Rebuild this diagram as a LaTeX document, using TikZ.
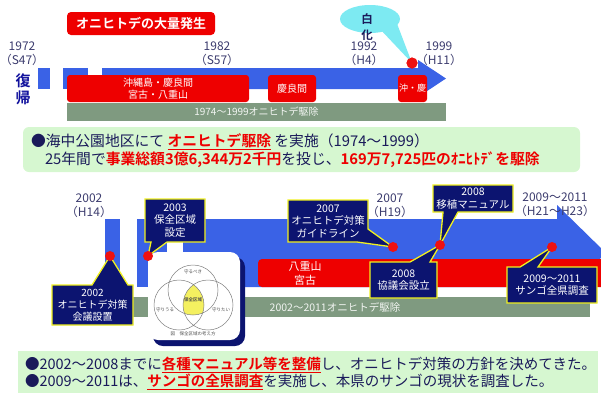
\documentclass[tikz,border=0pt]{standalone}
\usepackage{fontspec}
\setmainfont{Noto Sans CJK JP}[BoldFont={Noto Sans CJK JP Bold}]
\usetikzlibrary{calc}
\pgfdeclarelayer{back}
\pgfdeclarelayer{mid}
\pgfsetlayers{back,mid,main}
\definecolor{barblue}{HTML}{3A62E6}
\definecolor{redc}{HTML}{EE0000}
\definecolor{dotred}{HTML}{EE1111}
\definecolor{ggreen}{HTML}{7F9A80}
\definecolor{navyc}{HTML}{0C1470}
\definecolor{yellowc}{HTML}{F0F020}
\definecolor{lgreen}{HTML}{D6F7D0}
\definecolor{yearc}{HTML}{3C3C6E}
\definecolor{txtnavy}{HTML}{1A1A5A}
\definecolor{cyanc}{HTML}{7DEAF2}
\definecolor{vyellow}{HTML}{F4F060}
\newcommand{\fsz}[2]{\fontsize{#1}{#2}\selectfont}
\tikzset{
  yr/.style={text=yearc, font=\fsz{12}{14.5}, align=center},
  redbox/.style={fill=redc, rounded corners=3pt, text=white, align=center, font=\fsz{10}{12.5}, minimum height=27},
  callout/.style={fill=navyc, draw=yellowc, line width=1.3pt, line join=miter},
  ctext/.style={text=white, align=center, font=\fsz{10.5}{12.5}},
  dot/.style={circle, fill=dotred, minimum size=10pt},
  bartext/.style={text=white!90!ggreen, font=\fsz{10}{12}},
  venntext/.style={font=\fsz{4.5}{5}, text=black!70},
}
\begin{document}
\begin{tikzpicture}[x=1pt,y=-1pt, every node/.style={inner sep=0pt, outer sep=0pt}]
\useasboundingbox (0,0) rectangle (601,392);
\clip (0,0) rectangle (601,392);

% ================= TOP =================
\node[fill=redc, rounded corners=4pt, minimum width=148, minimum height=23, text=white, font=\fsz{13}{14}\bfseries] (title) at (141,23.5) {オニヒトデの大量発生};

\begin{pgfonlayer}{back}
\fill[barblue] (38,68) rectangle (50,89);
\fill[barblue] (63,68) rectangle (88,89);
\fill[barblue] (102,68) -- (418,68) -- (418,60) -- (446,78.5) -- (418,97) -- (418,89) -- (102,89) -- cycle;
\end{pgfonlayer}

\node[fill=ggreen, minimum width=379, minimum height=18, bartext] (gb1) at (256.5,112) {1974～1999オニヒトデ駆除};
\node[redbox, minimum width=182] (rb1) at (158,88.5) {沖縄島・慶良間\\宮古・八重山};
\node[redbox, minimum width=48] (rb2) at (292,88.5) {慶良間};
\node[redbox, minimum width=29, font=\fsz{9}{11}] (rb3) at (412.5,88.5) {沖・慶};

\node[yr] (y1972) at (22,53.5) {1972\\（S47）};
\node[yr] (y1982) at (217,53.5) {1982\\（S57）};
\node[yr] (y1992) at (364,53.5) {1992\\（H4）};
\node[yr] (y1999) at (439,53.5) {1999\\（H11）};
\node[font=\fsz{15}{17}\bfseries, text=txtnavy!60!blue, align=center] (fukki) at (23,89.5) {復\\帰};

\node[dot, minimum size=11pt] (d1999) at (412,63) {};
\fill[cyanc] (379,28) -- (396,21) -- (d1999.center) -- cycle;
\fill[cyanc] (370,19) ellipse (30pt and 14pt);
\node[dot, minimum size=11pt] at (d1999) {};
\node[font=\fsz{11.5}{15.5}\bfseries, text=txtnavy, align=center] (hakka) at (367,27) {白\\化};

% ================= MIDDLE TEXT =================
\node[fill=lgreen, rounded corners=6pt, minimum width=557, minimum height=45, anchor=north west] (midbox) at (23,127) {};
\node[anchor=west, font=\fsz{14.8}{16}, text=txtnavy] (l1) at (31,142) {●海中公園地区にて \textcolor{redc}{\bfseries\underline{オニヒトデ駆除}} を実施（1974～1999）};
\node[anchor=west, font=\fsz{14.8}{16}, text=txtnavy] (l2) at (45,160) {25年間で\textcolor{redc}{\bfseries 事業総額3億6,344万2千円}を投じ、\textcolor{redc}{\bfseries 169万7,725匹のｵﾆﾋﾄﾃﾞを駆除}};

% ================= BOTTOM TIMELINE =================
\begin{pgfonlayer}{back}
\fill[barblue] (105,219) rectangle (120,287);
\fill[barblue] (137,219) rectangle (167,287);
\fill[barblue] (183,219) -- (557,219) -- (557,205) -- (606,253) -- (557,301) -- (557,287) -- (183,287) -- cycle;
\fill[redc, rounded corners=4pt] (258,259) rectangle (620,287);
\fill[ggreen] (123,297) rectangle (590,317);
% Venn figure box
\fill[navyc, rounded corners=10pt] (153,257) rectangle (245,346);
\fill[white, rounded corners=10pt] (148,252) rectangle (240,340);
\begin{scope}
  \clip (193,290) circle (25pt);
  \clip (179,305) circle (25pt);
  \fill[vyellow] (208,305) circle (25pt);
\end{scope}
\draw[gray, line width=0.5pt] (193,290) circle (25pt) (179,305) circle (25pt) (208,305) circle (25pt);
\end{pgfonlayer}

\node[text=white, align=center, font=\fsz{11}{14}] (yaeyama) at (305,273) {八重山\\宮古};
\node[bartext, font=\fsz{10.5}{12}] (gb2) at (335,307) {2002～2011オニヒトデ駆除};

\node[venntext] (v1) at (193,272) {守るべき};
\node[venntext, font=\fsz{4.5}{5}\bfseries] (v2) at (193,300) {保全区域};
\node[venntext] (v3) at (165,310) {守りうる};
\node[venntext] (v4) at (221,310) {守りたい};
\node[venntext] (v5) at (193,334) {図　保全区域の考え方};

\node[yr] (y2002) at (89,205.5) {2002\\（H14）};
\node[yr] (y2007) at (390,205.5) {2007\\（H19）};
\node[yr] (y2009) at (555,204.5) {2009～2011\\（H21～H23）};

% dots
\node[dot] (d2002) at (110,256) {};
\node[dot] (d2003) at (148,256) {};
\node[dot] (d2007) at (393,247) {};
\node[dot] (d2008) at (440,245) {};
\node[dot] (d2009) at (552,247) {};

% callouts
\node[ctext, minimum width=60, minimum height=43] (c2003) at (175,220.5) {2003\\保全区域\\設定};
\node[ctext, minimum width=81, minimum height=40, font=\fsz{10}{11.8}] (c2002) at (92.5,305) {2002\\オニヒトデ対策\\会議設置};
\node[ctext, minimum width=80, minimum height=42] (c2007) at (328,221) {2007\\オニヒトデ対策\\ガイドライン};
\node[ctext, minimum width=80, minimum height=27] (c2008a) at (473,198.5) {2008\\移植マニュアル};
\node[ctext, minimum width=67, minimum height=36] (c2008b) at (403.5,280) {2008\\協議会設立};
\node[ctext, minimum width=90, minimum height=36] (c2009) at (552,285) {2009～2011\\サンゴ全県調査};

\begin{pgfonlayer}{mid}
\draw[callout] (c2003.north west) -- (c2003.north east) -- (c2003.south east) -- (167,242) -- (d2003.center) -- (151,242) -- (c2003.south west) -- cycle;
\draw[callout] (c2002.north west) -- (92,285) -- (d2002.center) -- (128,285) -- (c2002.north east) -- (c2002.south east) -- (c2002.south west) -- cycle;
\draw[callout] (c2007.north west) -- (c2007.north east) -- (368,229) -- (d2007.center) -- (357,242) -- (c2007.south west) -- cycle;
\draw[callout] (c2008a.north west) -- (c2008a.north east) -- (c2008a.south east) -- (458,212) -- (d2008.center) -- (443,212) -- (c2008a.south west) -- cycle;
\draw[callout] (c2008b.north west) -- (410,262) -- (d2008.center) -- (430,262) -- (c2008b.north east) -- (c2008b.south east) -- (c2008b.south west) -- cycle;
\draw[callout] (c2009.north west) -- (520,267) -- (d2009.center) -- (538,267) -- (c2009.north east) -- (c2009.south east) -- (c2009.south west) -- cycle;
\end{pgfonlayer}

% ================= BOTTOM TEXT =================
\node[fill=lgreen, minimum width=580, minimum height=42, anchor=north west] (botbox) at (18,351) {};
\node[anchor=west, font=\fsz{14.5}{16}, text=txtnavy] (b1) at (25,365) {●2002～2008までに\textcolor{redc}{\bfseries\underline{各種マニュアル等を整備}}し、オニヒトデ対策の方針を決めてきた。};
\node[anchor=west, font=\fsz{14.5}{16}, text=txtnavy] (b2) at (25,382) {●2009～2011は、\textcolor{redc}{\bfseries\underline{サンゴの全県調査}}を実施し、本県のサンゴの現状を調査した。};
\end{tikzpicture}
\end{document}
